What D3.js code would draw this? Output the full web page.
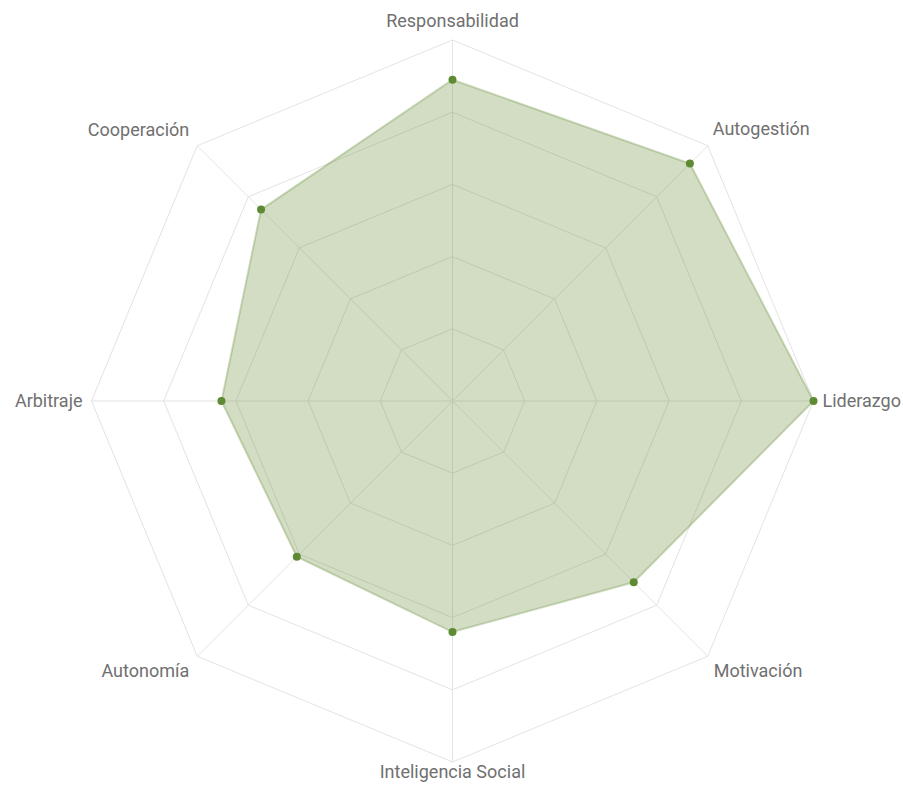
<!DOCTYPE html>
<html>
<head>
<meta charset="utf-8">
<script src="https://cdn.jsdelivr.net/npm/d3@7"></script>
<style>
  html, body { margin: 0; padding: 0; background: #fff; }
  svg { display: block; }
</style>
</head>
<body>
<svg id="chart" width="903" height="790"></svg>
<script>
const categories = ["Responsabilidad", "Autogestión", "Liderazgo", "Motivación",
                    "Inteligencia Social", "Autonomía", "Arbitraje", "Cooperación"];
const values = [89, 93, 100, 71, 64, 61, 64, 75];
const levels = [20, 40, 60, 80, 100];

const W = 903, H = 790;
const cx = 452.5, cy = 401, R = 361;
const svg = d3.select("#chart");
const n = categories.length;
const angle = d3.scaleLinear().domain([0, n]).range([0, 2 * Math.PI]);
const r = d3.scaleLinear().domain([0, 100]).range([0, R]);

const pt = (i, v) => {
  const a = angle(i) - Math.PI / 2;
  return [cx + r(v) * Math.cos(a), cy + r(v) * Math.sin(a)];
};

const g = svg.append("g");

// grid polygons
g.selectAll(".grid").data(levels).join("polygon")
  .attr("points", lv => categories.map((c, i) => pt(i, lv).join(",")).join(" "))
  .attr("fill", "none")
  .attr("stroke", "#e3e3e3")
  .attr("stroke-width", 1);

// spokes
g.selectAll(".spoke").data(categories).join("line")
  .attr("x1", cx).attr("y1", cy)
  .attr("x2", (c, i) => pt(i, 100)[0])
  .attr("y2", (c, i) => pt(i, 100)[1])
  .attr("stroke", "#e3e3e3")
  .attr("stroke-width", 1);

// series area
const color = "#6b8e3a";
g.append("polygon")
  .attr("points", values.map((v, i) => pt(i, v).join(",")).join(" "))
  .attr("fill", color)
  .attr("fill-opacity", 0.3)
  .attr("stroke", color)
  .attr("stroke-opacity", 0.32)
  .attr("stroke-width", 2);

g.selectAll(".dot").data(values).join("circle")
  .attr("cx", (v, i) => pt(i, v)[0])
  .attr("cy", (v, i) => pt(i, v)[1])
  .attr("r", 4)
  .attr("fill", "#5d8a32");

// labels
const offs = [
  { dx: 0, dy: -13, anchor: "middle" },
  { dx: 5, dy: -11, anchor: "start" },
  { dx: 9, dy: 6, anchor: "start" },
  { dx: 6, dy: 21, anchor: "start" },
  { dx: 0, dy: 16, anchor: "middle" },
  { dx: -8, dy: 21, anchor: "end" },
  { dx: -9, dy: 6, anchor: "end" },
  { dx: -8, dy: -10, anchor: "end" }
];
g.selectAll(".lbl").data(categories).join("text")
  .attr("x", (c, i) => pt(i, 100)[0] + offs[i].dx)
  .attr("y", (c, i) => pt(i, 100)[1] + offs[i].dy)
  .attr("text-anchor", (c, i) => offs[i].anchor)
  .attr("font-family", "Roboto, sans-serif")
  .attr("font-size", 18)
  .attr("fill", "#707070")
  .text(c => c);
</script>
</body>
</html>
